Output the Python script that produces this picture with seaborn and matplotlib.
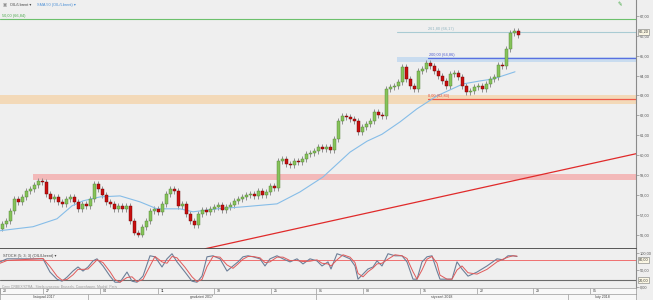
import numpy as np
import pandas as pd
import matplotlib
matplotlib.use("Agg")
import matplotlib.pyplot as plt
import matplotlib.transforms as mtransforms
import seaborn as sns

# ---------------- data (x = hours since chart start, 4H candles) ----------------
closes = [
    56.55, 56.70, 57.20, 57.80, 57.65, 57.90, 58.20, 58.30, 58.50, 58.70,
    58.65, 58.05, 57.80, 57.90, 57.65, 57.55, 57.80, 57.90, 57.65, 57.30,
    57.55, 57.45, 57.80, 58.55, 58.30, 58.00, 57.65, 57.55, 57.30, 57.45,
    57.30, 57.45, 56.70, 56.10, 56.00, 56.40, 56.70, 57.20, 57.30, 57.15,
    57.55, 58.05, 58.30, 58.20, 57.45, 57.55, 57.05, 56.70, 56.50, 57.05,
    57.25, 57.15, 57.30, 57.40, 57.50, 57.25, 57.40, 57.50, 57.70, 57.80,
    57.90, 58.00, 58.05, 57.95, 58.20, 58.00, 58.15, 58.45, 58.35, 59.70,
    59.80, 59.55, 59.50, 59.70, 59.65, 59.80, 60.05, 60.10, 60.20, 60.40,
    60.30, 60.40, 60.25, 60.80, 61.72, 61.97, 61.92, 61.82, 61.72, 61.17,
    61.42, 61.57, 61.72, 62.17, 62.02, 61.97, 63.33, 63.43, 63.48, 63.68,
    64.44, 63.83, 63.48, 63.33, 64.24, 64.34, 64.64, 64.49, 64.24, 63.98,
    63.73, 63.48, 64.09, 64.14, 63.93, 63.48, 63.18, 63.23, 63.43, 63.48,
    63.33, 63.58, 63.83, 63.93, 64.54, 64.49, 65.34, 66.15, 66.25, 66.05,
]
first_open = 56.30

ma_t = [0, 33, 57, 72, 83, 100, 120, 140, 157, 180, 193, 217, 243, 277, 300,
        323, 350, 367, 382, 400, 417, 437, 463, 480, 493, 515]
ma_v = [56.20, 56.40, 56.80, 57.45, 57.70, 57.90, 57.95, 57.65, 57.30, 57.30,
        57.15, 57.30, 57.40, 57.55, 58.15, 58.90, 60.15, 60.70, 61.05, 61.67,
        62.33, 62.98, 63.58, 63.73, 63.83, 64.19]

stoch_t = [0, 7, 43, 50, 57, 62, 67, 73, 78, 83, 88, 93, 97, 103, 110, 115, 120, 127,
           132, 137, 143, 150, 155, 162, 167, 172, 177, 185, 192, 197, 202, 207, 213,
           220, 227, 233, 238, 243, 248, 253, 260, 265, 270, 277, 283, 290, 297, 303,
           310, 317, 322, 328, 331, 337, 343, 350, 355, 358, 363, 368, 373, 377, 382,
           388, 395, 402, 407, 413, 417, 422, 427, 432, 437, 440, 447, 452, 457, 462,
           468, 477, 487, 497, 503, 508, 513, 517]
stoch_k = [74, 83, 83, 44, 23, 17, 29, 47, 59, 47, 59, 77, 83, 62, 32, 14, 14, 44,
           17, 14, 32, 92, 89, 59, 83, 98, 74, 44, 17, 14, 32, 89, 92, 83, 47, 62,
           74, 89, 92, 89, 83, 62, 83, 92, 83, 74, 83, 68, 83, 77, 62, 74, 53, 98,
           92, 83, 62, 23, 38, 53, 59, 77, 62, 98, 92, 92, 74, 23, 23, 74, 89, 92,
           47, 23, 23, 23, 74, 53, 32, 44, 62, 83, 80, 92, 92, 90]
stoch_d = [70, 78, 84, 60, 32, 20, 22, 36, 52, 52, 53, 68, 80, 72, 45, 22, 14, 28,
           30, 16, 22, 62, 90, 74, 70, 90, 86, 58, 30, 16, 22, 60, 90, 88, 65, 55,
           68, 82, 90, 90, 86, 72, 74, 88, 88, 78, 78, 75, 76, 80, 70, 68, 62, 80,
           95, 88, 72, 40, 30, 45, 56, 68, 70, 82, 95, 92, 84, 45, 23, 50, 82, 90,
           70, 35, 23, 23, 50, 62, 42, 38, 52, 74, 82, 88, 92, 91]

date_t = [0, 43, 100, 158, 214, 271, 316, 363, 420, 477, 533, 590]
date_labels = ["20", "27", "04", "11", "18", "25", "01", "08", "15", "22", "29", "05"]
month_t = [0, 88, 316, 568, 636]
month_labels = ["listopad 2017", "grudzień 2017", "styczeń 2018", "luty 2018"]

price_ticks = [56, 57, 58, 59, 60, 61, 62, 63, 64, 65, 66, 67]
last_price = 66.20

fib_green = 66.84
fib_top = 66.17
fib_blue = 64.86
fib_red = 62.83
trend_t = [205, 636]
trend_p = [55.29, 60.07]

# ---------------- styling ----------------
sns.set_theme(style="white")
plt.rcParams['font.family'] = ['Liberation Sans', 'DejaVu Sans']
BG = '#efefef'
FS = 2.8

W, H = 653, 300
fig = plt.figure(figsize=(W / 100, H / 100), dpi=100)
fig.patch.set_facecolor(BG)
AXW = 636 / W

ax = fig.add_axes([0, 51 / H, AXW, 249 / H])
ax.set_facecolor(BG)
ax.set_xlim(0, 636)
ax.set_ylim(55.28, 67.80)

# bands & levels
ax.axhspan(62.58, 63.03, xmin=0, xmax=1, color='#f3d9b8', lw=0, zorder=0.5)
ax.axhspan(58.76, 59.06, xmin=33 / 636, xmax=1, color='#f3b9b9', lw=0, zorder=0.5)
ax.axhspan(64.69, 64.94, xmin=397 / 636, xmax=1, color='#c9dcef', lw=0, zorder=0.5)
ax.axhline(fib_green, color='#6cc06c', lw=0.8, zorder=1)
ax.axhline(fib_top, xmin=397 / 636, color='#a9cbd3', lw=0.8, zorder=1)
ax.axhline(fib_blue, xmin=428 / 636, color='#5a6fe0', lw=0.9, zorder=1)
ax.axhline(fib_red, xmin=428 / 636, color='#ef5a4a', lw=0.9, zorder=1)
ax.plot(trend_t, trend_p, color='#e02a2a', lw=0.9, zorder=1)

ax.text(2, fib_green + 0.08, "50,00 (66,84)", color='#4aa84a', fontsize=FS, va='bottom')
ax.text(428, fib_top + 0.06, "261,80 (66,17)", color='#8fb4c0', fontsize=FS, va='bottom')
ax.text(429, fib_blue + 0.06, "200,00 (64,86)", color='#4a5ad0', fontsize=FS, va='bottom')
ax.text(428, fib_red + 0.06, "0,00 (62,83)", color='#e04a3a', fontsize=FS, va='bottom')

# candles
t = np.arange(len(closes)) * 4 + 2
c = np.array(closes)
o = np.array([first_open] + closes[:-1])
WICK = 0.14
hi = np.maximum(o, c) + WICK
lo = np.minimum(o, c) - WICK
ax.vlines(t, lo, hi, color='#808080', lw=0.6, zorder=2)
up = c >= o
body = np.maximum(np.abs(c - o), 0.03)
ax.bar(t[up], body[up], bottom=np.minimum(o, c)[up], width=3, color='#86c35a',
       edgecolor='#4f7f33', linewidth=0.3, zorder=3)
ax.bar(t[~up], body[~up], bottom=np.minimum(o, c)[~up], width=3, color='#c81010',
       edgecolor='#6a0000', linewidth=0.3, zorder=3)

# SMA 50
sns.lineplot(x=ma_t, y=ma_v, ax=ax, color='#86bde8', lw=0.8, zorder=2.5)

# axes dressing
for s in ['top', 'left']:
    ax.spines[s].set_visible(False)
ax.spines['right'].set_color('#8a8a8a'); ax.spines['right'].set_linewidth(0.8)
ax.spines['bottom'].set_color('#4a4a4a'); ax.spines['bottom'].set_linewidth(1.3)
ax.set_xticks([])
ax.yaxis.tick_right()
ax.set_yticks(price_ticks)
ax.set_yticklabels([f"{v:.2f}".replace('.', ',') for v in price_ticks])
ax.tick_params(axis='y', labelsize=FS, length=2, width=0.4, color='#777',
               labelcolor='#555', pad=1, right=True)
ax.set_xlabel(""); ax.set_ylabel("")
trans = mtransforms.blended_transform_factory(ax.transAxes, ax.transData)
ax.text(1.004, last_price, f"{last_price:.2f}".replace('.', ','), transform=trans,
        fontsize=FS, va='center', ha='left', color='#333',
        bbox=dict(boxstyle='square,pad=0.2', fc='#fbf7e4', ec='#777', lw=0.4), zorder=5)

# header
fig.text(3 / W, 1 - 5 / H, "▣", fontsize=3.2, color='#888', va='center')
fig.text(10 / W, 1 - 5 / H, "OIL/Lbrent ▾", fontsize=FS, color='#444', va='center')
fig.text(37 / W, 1 - 5 / H, "SMA 50 (OIL/Lbrent) ▾", fontsize=FS, color='#4a8fd6', va='center')
fig.text(618 / W, 1 - 5 / H, "✎", fontsize=4, color='#3aa53a', va='center')

# ---------------- stochastic panel ----------------
ax2 = fig.add_axes([0, 12 / H, AXW, 39 / H])
ax2.set_facecolor(BG)
ax2.set_xlim(0, 636)
ax2.set_ylim(-3, 112)
ax2.axhline(80, color='#f07070', lw=0.7, zorder=1)
ax2.axhline(20, color='#6a6a6a', lw=0.8, zorder=1)
sns.lineplot(x=stoch_t, y=stoch_k, ax=ax2, color='#6d7f98', lw=0.8, zorder=2)
sns.lineplot(x=stoch_t, y=stoch_d, ax=ax2, color='#e05a5a', lw=0.7, zorder=2.2)
for s in ['top', 'left', 'bottom']:
    ax2.spines[s].set_visible(False)
ax2.spines['right'].set_color('#8a8a8a'); ax2.spines['right'].set_linewidth(0.8)
ax2.set_xticks([])
ax2.yaxis.tick_right()
ax2.set_yticks([0, 50, 100])
ax2.set_yticklabels(["0,00", "50,00", "100,00"])
ax2.tick_params(axis='y', labelsize=FS, length=2, width=0.4, color='#777',
                labelcolor='#555', pad=1, right=True)
ax2.set_xlabel(""); ax2.set_ylabel("")
trans2 = mtransforms.blended_transform_factory(ax2.transAxes, ax2.transData)
for lv in (80, 20):
    ax2.text(1.004, lv, f"{lv:.2f}".replace('.', ','), transform=trans2, fontsize=FS,
             va='center', ha='left', color='#333',
             bbox=dict(boxstyle='square,pad=0.2', fc='#fbf7e4', ec='#777', lw=0.4))
ax2.text(3, 90, "STOCH (5; 3; 3) (OIL/Lbrent) ▾", fontsize=FS, color='#444', va='center')
ax2.text(2, 1, "Ceny ORBEX/XTRA - Strefa czasowa: Brussels, Copenhagen, Madrid, Paris",
         fontsize=2.4, color='#9a9a9a', va='center')

# ---------------- date rows ----------------
ax3 = fig.add_axes([0, 6 / H, AXW, 6 / H])
ax3.set_facecolor('#f8f8f8')
ax3.set_xlim(0, 636); ax3.set_ylim(0, 1)
ax3.vlines(date_t, 0, 1, color='#9a9a9a', lw=0.5)
for x, lab in zip(date_t, date_labels):
    ax3.text(x + 3, 0.5, lab, fontsize=2.6, color='#444', va='center')
ax3.set_xticks([]); ax3.set_yticks([])
for s in ax3.spines.values():
    s.set_color('#9a9a9a'); s.set_linewidth(0.5)

ax4 = fig.add_axes([0, 0, AXW, 6 / H])
ax4.set_facecolor('#f8f8f8')
ax4.set_xlim(0, 636); ax4.set_ylim(0, 1)
ax4.vlines(month_t[1:-1], 0, 1, color='#9a9a9a', lw=0.5)
for a, b, lab in zip(month_t[:-1], month_t[1:], month_labels):
    ax4.text((a + b) / 2, 0.5, lab, fontsize=2.6, color='#444', va='center', ha='center')
ax4.set_xticks([]); ax4.set_yticks([])
for s in ax4.spines.values():
    s.set_color('#9a9a9a'); s.set_linewidth(0.5)

fig.savefig("out.png", dpi=100, facecolor=fig.get_facecolor())
